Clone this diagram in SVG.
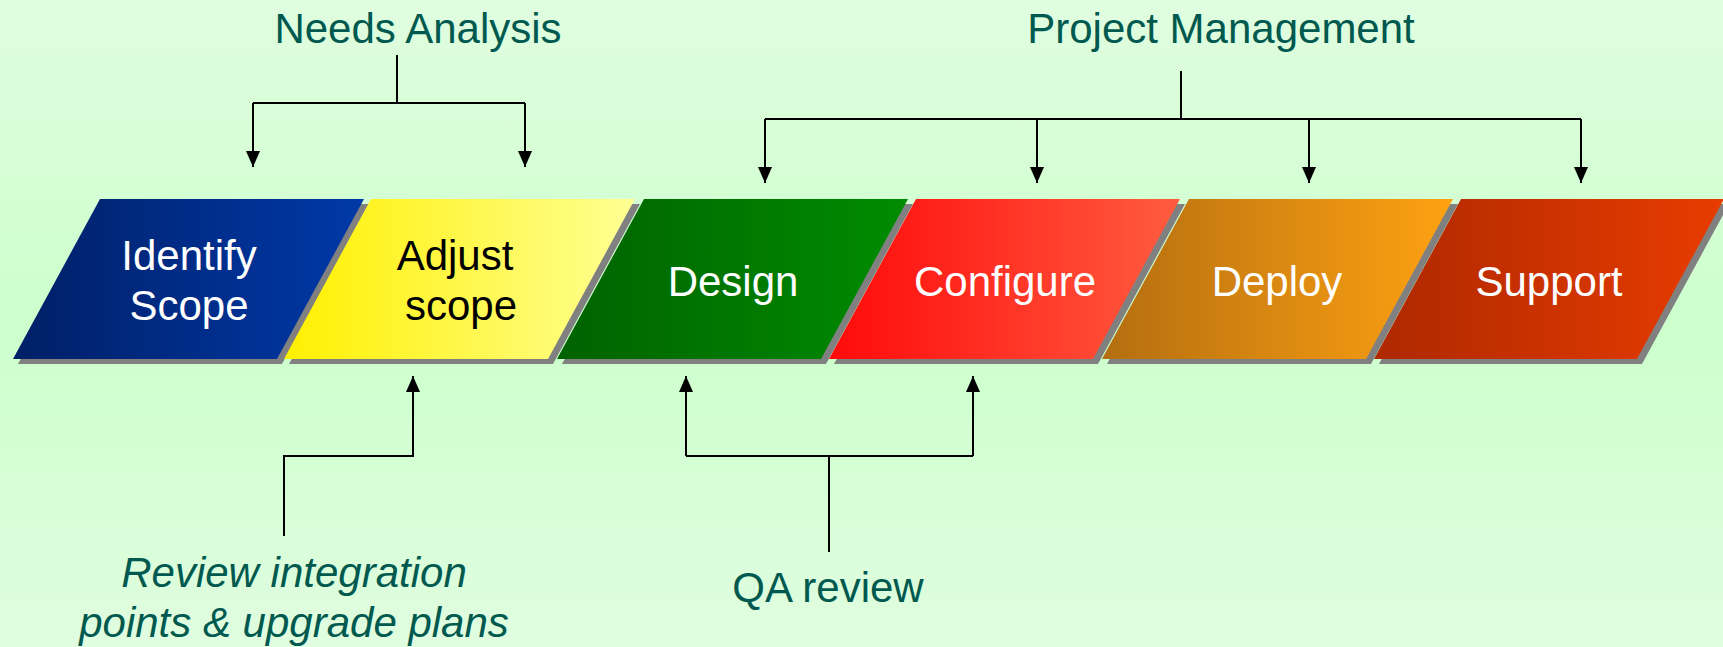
<svg xmlns="http://www.w3.org/2000/svg" width="1723" height="647" viewBox="0 0 1723 647">
<defs>
<linearGradient id="bg" x1="0" y1="0" x2="0" y2="1">
<stop offset="0" stop-color="#E0FDE0"/>
<stop offset="0.5" stop-color="#CCFFCC"/>
<stop offset="1" stop-color="#E0FDE0"/>
</linearGradient>
<linearGradient id="gBlue" x1="0" y1="0" x2="1" y2="0"><stop offset="0" stop-color="#001F66"/><stop offset="1" stop-color="#0039A8"/></linearGradient>
<linearGradient id="gYellow" x1="0" y1="0" x2="1" y2="0"><stop offset="0" stop-color="#FFF000"/><stop offset="1" stop-color="#FFFF94"/></linearGradient>
<linearGradient id="gGreen" x1="0" y1="0" x2="1" y2="0"><stop offset="0" stop-color="#006200"/><stop offset="1" stop-color="#008C00"/></linearGradient>
<linearGradient id="gRed" x1="0" y1="0" x2="1" y2="0"><stop offset="0" stop-color="#FF0A0A"/><stop offset="1" stop-color="#FF5C40"/></linearGradient>
<linearGradient id="gOrange" x1="0" y1="0" x2="1" y2="0"><stop offset="0" stop-color="#B46E10"/><stop offset="1" stop-color="#FFA212"/></linearGradient>
<linearGradient id="gSupport" x1="0" y1="0" x2="1" y2="0"><stop offset="0" stop-color="#AE2800"/><stop offset="1" stop-color="#E83C00"/></linearGradient>
<marker id="arr" markerUnits="userSpaceOnUse" markerWidth="14" markerHeight="16" viewBox="0 0 14 16" refX="7" refY="16" orient="auto-start-reverse">
<path d="M0,0 L14,0 L7,16 Z" fill="#000"/>
</marker>
<marker id="arrUp" markerUnits="userSpaceOnUse" markerWidth="14" markerHeight="16" viewBox="0 0 14 16" refX="7" refY="0" orient="0">
<path d="M7,0 L14,16 L0,16 Z" fill="#000"/>
</marker>
<marker id="arrDown" markerUnits="userSpaceOnUse" markerWidth="14" markerHeight="16" viewBox="0 0 14 16" refX="7" refY="16" orient="0">
<path d="M0,0 L14,0 L7,16 Z" fill="#000"/>
</marker>
</defs>
<style>
.shadow{fill:#808080}
.lbl{font-family:"Liberation Sans",Arial,sans-serif;font-size:42px;text-anchor:middle}
.w{fill:#FFFFFF}
.k{fill:#000000}
.t{fill:#00594F}
.conn{fill:none;stroke:#000;stroke-width:2}
</style>
<rect x="0" y="0" width="1723" height="647" fill="url(#bg)"/>

<g id="identify-scope">
<polygon class="shadow" points="105,204 369,204 282,364 18,364"/>
<polygon fill="url(#gBlue)" points="100,199 364,199 277,359 13,359"/>
<text class="lbl w" x="189" y="270">Identify</text>
<text class="lbl w" x="189" y="320">Scope</text>
</g>
<g id="adjust-scope">
<polygon class="shadow" points="376,204 640,204 553,364 289,364"/>
<polygon fill="url(#gYellow)" points="371,199 635,199 548,359 284,359"/>
<text class="lbl k" x="455" y="270">Adjust</text>
<text class="lbl k" x="461" y="320">scope</text>
</g>
<g id="design">
<polygon class="shadow" points="649,204 913,204 826,364 562,364"/>
<polygon fill="url(#gGreen)" points="644,199 908,199 821,359 557,359"/>
<text class="lbl w" x="733" y="296">Design</text>
</g>
<g id="configure">
<polygon class="shadow" points="921,204 1185,204 1098,364 834,364"/>
<polygon fill="url(#gRed)" points="916,199 1180,199 1093,359 829,359"/>
<text class="lbl w" x="1005" y="296">Configure</text>
</g>
<g id="deploy">
<polygon class="shadow" points="1194,204 1458,204 1371,364 1107,364"/>
<polygon fill="url(#gOrange)" points="1189,199 1453,199 1366,359 1102,359"/>
<text class="lbl w" x="1277" y="296">Deploy</text>
</g>
<g id="support">
<polygon class="shadow" points="1466,204 1729,204 1642,364 1379,364"/>
<polygon fill="url(#gSupport)" points="1461,199 1724,199 1637,359 1374,359"/>
<text class="lbl w" x="1549" y="296">Support</text>
</g>

<g id="needs-analysis">
<text class="lbl t" x="418" y="43">Needs Analysis</text>
</g>
<g id="project-management">
<text class="lbl t" x="1221" y="43">Project Management</text>
</g>
<g id="review-integration">
<text class="lbl t" x="294" y="587" font-style="italic">Review integration</text>
<text class="lbl t" x="294" y="637" font-style="italic">points &amp; upgrade plans</text>
</g>
<g id="qa-review">
<text class="lbl t" x="828" y="602">QA review</text>
</g>

<g id="connectors">
<path class="conn" d="M397,55 V103"/>
<path class="conn" d="M253,103 H525"/>
<path class="conn" d="M253,103 V167" marker-end="url(#arrDown)"/>
<path class="conn" d="M525,103 V167" marker-end="url(#arrDown)"/>

<path class="conn" d="M1181,71 V119"/>
<path class="conn" d="M765,119 H1581"/>
<path class="conn" d="M765,119 V183" marker-end="url(#arrDown)"/>
<path class="conn" d="M1037,119 V183" marker-end="url(#arrDown)"/>
<path class="conn" d="M1309,119 V183" marker-end="url(#arrDown)"/>
<path class="conn" d="M1581,119 V183" marker-end="url(#arrDown)"/>

<path class="conn" d="M284,536 V456 H413 V376" marker-end="url(#arrUp)"/>

<path class="conn" d="M829,552 V456"/>
<path class="conn" d="M686,456 H973"/>
<path class="conn" d="M686,456 V376" marker-end="url(#arrUp)"/>
<path class="conn" d="M973,456 V376" marker-end="url(#arrUp)"/>
</g>
</svg>
